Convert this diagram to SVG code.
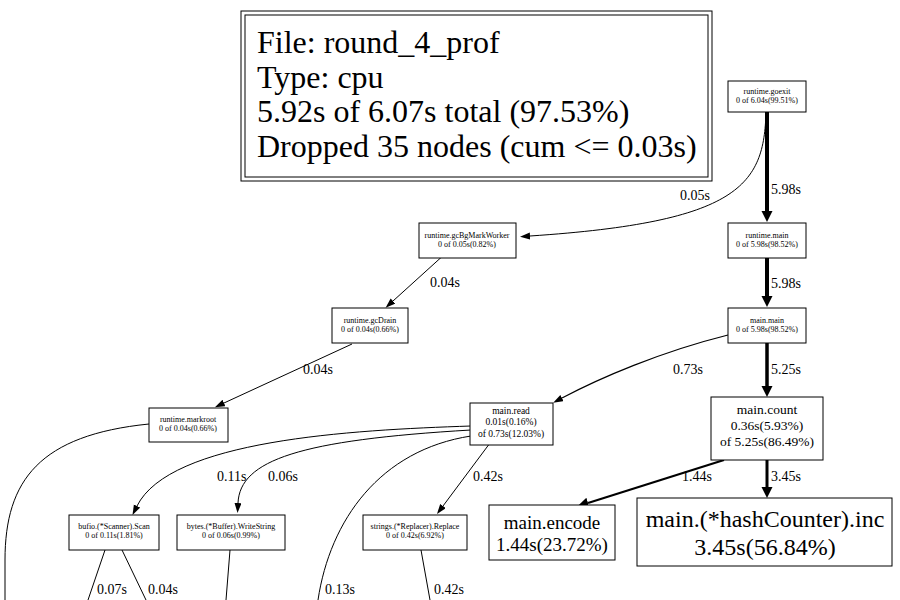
<svg xmlns="http://www.w3.org/2000/svg" width="900" height="600" viewBox="0 0 900 600">
<style>
text{font-family:"Liberation Serif","Times New Roman",serif;fill:#000}
.n rect{fill:#fff;stroke:#000;stroke-width:1}
.s{font-size:8px;text-anchor:middle}
.lg{font-size:32px}
.el{font-size:14px}
.e{fill:none;stroke:#000;stroke-width:1}
</style>
<defs>
<marker id="a" markerUnits="userSpaceOnUse" markerWidth="10" markerHeight="8" refX="0" refY="3.5" orient="auto"><path d="M0,0 L10,3.5 L0,7 z" fill="#000"/></marker>
<marker id="b" markerUnits="userSpaceOnUse" markerWidth="12" markerHeight="12" refX="0" refY="5.5" orient="auto"><path d="M0,0 L11,5.5 L0,11 z" fill="#000"/></marker>
</defs>
<rect width="900" height="600" fill="#fff"/>
<g id="legend">
<rect x="241" y="11" width="471" height="170" fill="#fff" stroke="#000"/>
<rect x="245" y="15" width="463" height="162" fill="none" stroke="#000"/>
<text class="lg" x="257" y="53">File: round_4_prof</text>
<text class="lg" x="257" y="88">Type: cpu</text>
<text class="lg" x="257" y="122">5.92s of 6.07s total (97.53%)</text>
<text class="lg" x="257" y="157">Dropped 35 nodes (cum &lt;= 0.03s)</text>
</g>
<g id="edges">
<path class="e" d="M766,112 C764,185 740,222 530,236" marker-end="url(#a)"/>
<text class="el" x="680" y="200">0.05s</text>
<path class="e" d="M767,112 L767,211" style="stroke-width:4" marker-end="url(#b)"/>
<text class="el" x="771" y="194">5.98s</text>
<path class="e" d="M767,258 L767,296" style="stroke-width:4" marker-end="url(#b)"/>
<text class="el" x="771" y="288">5.98s</text>
<path class="e" d="M446,253 L393,301" marker-end="url(#a)"/>
<text class="el" x="430" y="287">0.04s</text>
<path class="e" d="M352,344 L224,403" marker-end="url(#a)"/>
<text class="el" x="303" y="374">0.04s</text>
<path class="e" d="M728,335 C660,352 600,378 562,398" style="stroke-width:1.2" marker-end="url(#a)"/>
<text class="el" x="673" y="374">0.73s</text>
<path class="e" d="M767,343 L767,386" style="stroke-width:3.5" marker-end="url(#b)"/>
<text class="el" x="771" y="374">5.25s</text>
<path class="e" d="M724,460 L588,503" style="stroke-width:2.2" marker-end="url(#b)"/>
<text class="el" x="682" y="481">1.44s</text>
<path class="e" d="M767,460 L767,487" style="stroke-width:3" marker-end="url(#b)"/>
<text class="el" x="771" y="481">3.45s</text>
<path class="e" d="M471,426 C350,430 170,440 137,506" marker-end="url(#a)"/>
<text class="el" x="217" y="481">0.11s</text>
<path class="e" d="M471,430 C300,440 240,460 238,503" marker-end="url(#a)"/>
<text class="el" x="268" y="481">0.06s</text>
<path class="e" d="M490,443 L443,506" marker-end="url(#a)"/>
<text class="el" x="473" y="481">0.42s</text>
<path class="e" d="M471,436 C380,450 330,520 318,600"/>
<text class="el" x="325" y="594">0.13s</text>
<path class="e" d="M149,424 C40,435 5,480 5,560 L5,600"/>
<path class="e" d="M105,550 L88,600"/>
<text class="el" x="97" y="594">0.07s</text>
<path class="e" d="M122,550 L146,600"/>
<text class="el" x="148" y="594">0.04s</text>
<path class="e" d="M230,550 L226,600"/>
<path class="e" d="M421,550 L430,600"/>
<text class="el" x="434" y="594">0.42s</text>
</g>
<g id="goexit" class="n"><rect x="728" y="81" width="78" height="31"/><text class="s" x="767" y="94">runtime.goexit</text><text class="s" x="767" y="103">0 of 6.04s(99.51%)</text></g>
<g id="gcBgMarkWorker" class="n"><rect x="419" y="223" width="97" height="35"/><text class="s" x="467" y="238">runtime.gcBgMarkWorker</text><text class="s" x="467" y="247">0 of 0.05s(0.82%)</text></g>
<g id="runtime_main" class="n"><rect x="728" y="223" width="78" height="35"/><text class="s" x="767" y="238">runtime.main</text><text class="s" x="767" y="247">0 of 5.98s(98.52%)</text></g>
<g id="gcDrain" class="n"><rect x="332" y="308" width="76" height="35"/><text class="s" x="370" y="323">runtime.gcDrain</text><text class="s" x="370" y="332">0 of 0.04s(0.66%)</text></g>
<g id="main_main" class="n"><rect x="728" y="308" width="78" height="35"/><text class="s" x="767" y="323">main.main</text><text class="s" x="767" y="332">0 of 5.98s(98.52%)</text></g>
<g id="markroot" class="n"><rect x="149" y="408" width="79" height="34"/><text class="s" x="188" y="422">runtime.markroot</text><text class="s" x="188" y="431">0 of 0.04s(0.66%)</text></g>
<g id="main_read" class="n"><rect x="470" y="403" width="83" height="42"/><text x="511" y="414" style="font-size:9.5px;text-anchor:middle">main.read</text><text x="511" y="425" style="font-size:9.5px;text-anchor:middle">0.01s(0.16%)</text><text x="511" y="437" style="font-size:9.5px;text-anchor:middle">of 0.73s(12.03%)</text></g>
<g id="main_count" class="n"><rect x="711" y="397" width="112" height="63"/><text x="767" y="414" style="font-size:13.5px;text-anchor:middle">main.count</text><text x="767" y="430" style="font-size:13.5px;text-anchor:middle">0.36s(5.93%)</text><text x="767" y="446" style="font-size:13.5px;text-anchor:middle">of 5.25s(86.49%)</text></g>
<g id="main_encode" class="n"><rect x="489" y="505" width="126" height="55"/><text x="552" y="529" style="font-size:19px;text-anchor:middle">main.encode</text><text x="552" y="551" style="font-size:19px;text-anchor:middle">1.44s(23.72%)</text></g>
<g id="hashCounter_inc" class="n"><rect x="637" y="498" width="255" height="68"/><text x="765" y="527" style="font-size:24px;text-anchor:middle">main.(*hashCounter).inc</text><text x="765" y="555" style="font-size:24px;text-anchor:middle">3.45s(56.84%)</text></g>
<g id="bufio_scan" class="n"><rect x="69" y="515" width="90" height="35"/><text class="s" x="114" y="529">bufio.(*Scanner).Scan</text><text class="s" x="114" y="538">0 of 0.11s(1.81%)</text></g>
<g id="bytes_writestring" class="n"><rect x="177" y="515" width="108" height="35"/><text class="s" x="231" y="529">bytes.(*Buffer).WriteString</text><text class="s" x="231" y="538">0 of 0.06s(0.99%)</text></g>
<g id="strings_replace" class="n"><rect x="363" y="515" width="104" height="35"/><text class="s" x="415" y="529">strings.(*Replacer).Replace</text><text class="s" x="415" y="538">0 of 0.42s(6.92%)</text></g>
</svg>
